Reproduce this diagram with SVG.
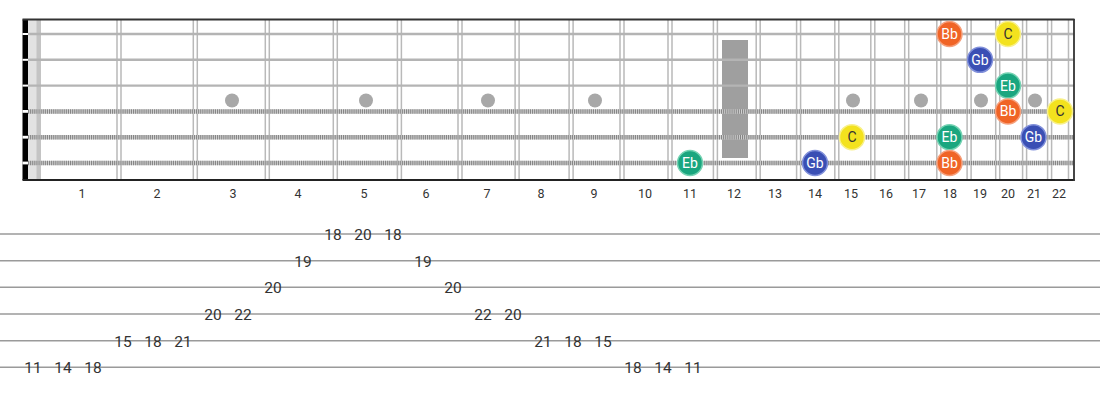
<svg xmlns="http://www.w3.org/2000/svg" width="1100" height="400" viewBox="0 0 1100 400">
<style>
.fret{stroke:#b9b9b9;stroke-width:1.5;fill:none}
.plain{stroke:#b4b4b4;stroke-width:2.4}
.woundb{stroke:#d2d2d2;stroke-width:4.5}
.woundt{stroke:#858585;stroke-width:4.5;stroke-dasharray:1.1 1}
.inlay{fill:#a8a8a8}
.fnum{font-family:Roboto,"Liberation Sans",sans-serif;font-size:12.5px;fill:#333;text-anchor:middle}
.tabl{stroke:#9a9a9a;stroke-width:1.6}
.tabn{font-family:Roboto,"Liberation Sans",sans-serif;font-size:15.5px;fill:#333;text-anchor:middle;dominant-baseline:central}
.nt{font-family:Roboto,"Liberation Sans",sans-serif;font-size:14px;text-anchor:middle;dominant-baseline:central}
.bb circle{fill:#f06426;stroke:#f6a07c;stroke-width:1.5}
.gb circle{fill:#3a4fb4;stroke:#8190da;stroke-width:1.5}
.eb circle{fill:#1aa67f;stroke:#74d2b2;stroke-width:1.5}
.c circle{fill:#f3e21e;stroke:#f8f08a;stroke-width:1.5}
.bb text,.gb text,.eb text{fill:#fff}
.c text{fill:#333}
</style>
<rect width="1100" height="400" fill="#fff"/>
<g id="fretboard">
  <rect x="28" y="19.5" width="10" height="160.5" fill="#e2e2e2"/>
  <rect x="36.5" y="19.5" width="4.5" height="160.5" fill="#c4c4c4"/>
  <rect x="22.5" y="19.5" width="5.5" height="160.5" fill="#000"/>
  <g fill="#fff">
    <rect x="22.5" y="33" width="5.5" height="2"/>
    <rect x="22.5" y="58.8" width="5.5" height="2"/>
    <rect x="22.5" y="84.6" width="5.5" height="2"/>
    <rect x="22.5" y="110" width="5.5" height="2.8"/>
    <rect x="22.5" y="135.8" width="5.5" height="2.8"/>
    <rect x="22.5" y="161.6" width="5.5" height="2.8"/>
  </g>
  <rect x="722" y="40" width="26" height="118" fill="#9f9f9f"/>
  <g class="inlay">
    <circle cx="232" cy="100.5" r="7"/>
    <circle cx="366" cy="100.5" r="7"/>
    <circle cx="488" cy="100.5" r="7"/>
    <circle cx="595" cy="100.5" r="7"/>
    <circle cx="853" cy="100.5" r="7"/>
    <circle cx="921" cy="100.5" r="7"/>
    <circle cx="981" cy="100.5" r="7"/>
    <circle cx="1035" cy="100.5" r="7"/>
  </g>
  <path class="fret" d="M117 20V180M121 20V180M193.3 20V180M197.3 20V180M265.3 20V180M269.3 20V180M333.3 20V180M337.3 20V180M397.4 20V180M401.4 20V180M458 20V180M462 20V180M515.1 20V180M519.1 20V180M569.1 20V180M573.1 20V180M620 20V180M624 20V180M668 20V180M672 20V180M713.4 20V180M717.4 20V180M756.2 20V180M760.2 20V180M796.6 20V180M800.6 20V180M834.8 20V180M838.8 20V180M870.8 20V180M874.8 20V180M904.7 20V180M908.7 20V180M936.8 20V180M940.8 20V180M967.1 20V180M971.1 20V180M995.7 20V180M999.7 20V180M1022.6 20V180M1026.6 20V180M1047.6 20V180M1051.6 20V180M1068.5 20V180"/>
  <line class="plain" x1="28" y1="34" x2="1074" y2="34"/>
  <line class="plain" x1="28" y1="59.8" x2="1074" y2="59.8"/>
  <line class="plain" x1="28" y1="85.6" x2="1074" y2="85.6"/>
  <line class="woundb" x1="28" y1="111.4" x2="1074" y2="111.4"/>
  <line class="woundt" x1="28" y1="111.4" x2="1074" y2="111.4"/>
  <line class="woundb" x1="28" y1="137.2" x2="1074" y2="137.2"/>
  <line class="woundt" x1="28" y1="137.2" x2="1074" y2="137.2"/>
  <line class="woundb" x1="28" y1="163" x2="1074" y2="163"/>
  <line class="woundt" x1="28" y1="163" x2="1074" y2="163"/>
  <line x1="22.5" y1="19.5" x2="1074.5" y2="19.5" stroke="#333" stroke-width="1.8"/>
  <line x1="22.5" y1="180" x2="1074.5" y2="180" stroke="#222" stroke-width="2"/>
  <line x1="1074" y1="19" x2="1074" y2="181" stroke="#333" stroke-width="1.8"/>
</g>
<g id="fret-numbers">
  <text class="fnum" x="82" y="198">1</text>
  <text class="fnum" x="157" y="198">2</text>
  <text class="fnum" x="233" y="198">3</text>
  <text class="fnum" x="298" y="198">4</text>
  <text class="fnum" x="364" y="198">5</text>
  <text class="fnum" x="426" y="198">6</text>
  <text class="fnum" x="487" y="198">7</text>
  <text class="fnum" x="541" y="198">8</text>
  <text class="fnum" x="594" y="198">9</text>
  <text class="fnum" x="645" y="198">10</text>
  <text class="fnum" x="690" y="198">11</text>
  <text class="fnum" x="734" y="198">12</text>
  <text class="fnum" x="775" y="198">13</text>
  <text class="fnum" x="815" y="198">14</text>
  <text class="fnum" x="851" y="198">15</text>
  <text class="fnum" x="886" y="198">16</text>
  <text class="fnum" x="919" y="198">17</text>
  <text class="fnum" x="950" y="198">18</text>
  <text class="fnum" x="980" y="198">19</text>
  <text class="fnum" x="1008" y="198">20</text>
  <text class="fnum" x="1034" y="198">21</text>
  <text class="fnum" x="1059" y="198">22</text>
</g>
<g id="notes">
  <g id="n1-bb" class="bb"><circle cx="949.5" cy="34" r="12.5"/><text class="nt" x="949.5" y="34">Bb</text></g>
  <g id="n1-c" class="c"><circle cx="1008" cy="34" r="12.5"/><text class="nt" x="1008" y="34">C</text></g>
  <g id="n2-gb" class="gb"><circle cx="980" cy="59.8" r="12.5"/><text class="nt" x="980" y="59.8">Gb</text></g>
  <g id="n3-eb" class="eb"><circle cx="1008" cy="85.6" r="12.5"/><text class="nt" x="1008" y="85.6">Eb</text></g>
  <g id="n4-bb" class="bb"><circle cx="1008" cy="111.4" r="12.5"/><text class="nt" x="1008" y="111.4">Bb</text></g>
  <g id="n4-c" class="c"><circle cx="1060" cy="111.4" r="12.5"/><text class="nt" x="1060" y="111.4">C</text></g>
  <g id="n5-c" class="c"><circle cx="852" cy="137.2" r="12.5"/><text class="nt" x="852" y="137.2">C</text></g>
  <g id="n5-eb" class="eb"><circle cx="949.5" cy="137.2" r="12.5"/><text class="nt" x="949.5" y="137.2">Eb</text></g>
  <g id="n5-gb" class="gb"><circle cx="1033.5" cy="137.2" r="12.5"/><text class="nt" x="1033.5" y="137.2">Gb</text></g>
  <g id="n6-eb" class="eb"><circle cx="690" cy="163" r="12.5"/><text class="nt" x="690" y="163">Eb</text></g>
  <g id="n6-gb" class="gb"><circle cx="815" cy="163" r="12.5"/><text class="nt" x="815" y="163">Gb</text></g>
  <g id="n6-bb" class="bb"><circle cx="949.5" cy="163" r="12.5"/><text class="nt" x="949.5" y="163">Bb</text></g>
</g>
<g id="tab">
  <line class="tabl" x1="0" y1="234" x2="1100" y2="234"/>
  <line class="tabl" x1="0" y1="260.7" x2="1100" y2="260.7"/>
  <line class="tabl" x1="0" y1="287.3" x2="1100" y2="287.3"/>
  <line class="tabl" x1="0" y1="314" x2="1100" y2="314"/>
  <line class="tabl" x1="0" y1="340.7" x2="1100" y2="340.7"/>
  <line class="tabl" x1="0" y1="367.3" x2="1100" y2="367.3"/>
  <text class="tabn" x="333" y="235">18</text>
  <text class="tabn" x="363" y="235">20</text>
  <text class="tabn" x="393" y="235">18</text>
  <text class="tabn" x="303" y="261.7">19</text>
  <text class="tabn" x="423" y="261.7">19</text>
  <text class="tabn" x="273" y="288.3">20</text>
  <text class="tabn" x="453" y="288.3">20</text>
  <text class="tabn" x="213" y="315">20</text>
  <text class="tabn" x="243" y="315">22</text>
  <text class="tabn" x="483" y="315">22</text>
  <text class="tabn" x="513" y="315">20</text>
  <text class="tabn" x="123" y="341.7">15</text>
  <text class="tabn" x="153" y="341.7">18</text>
  <text class="tabn" x="183" y="341.7">21</text>
  <text class="tabn" x="543" y="341.7">21</text>
  <text class="tabn" x="573" y="341.7">18</text>
  <text class="tabn" x="603" y="341.7">15</text>
  <text class="tabn" x="33" y="368.3">11</text>
  <text class="tabn" x="63" y="368.3">14</text>
  <text class="tabn" x="93" y="368.3">18</text>
  <text class="tabn" x="633" y="368.3">18</text>
  <text class="tabn" x="663" y="368.3">14</text>
  <text class="tabn" x="693" y="368.3">11</text>
</g>
</svg>
